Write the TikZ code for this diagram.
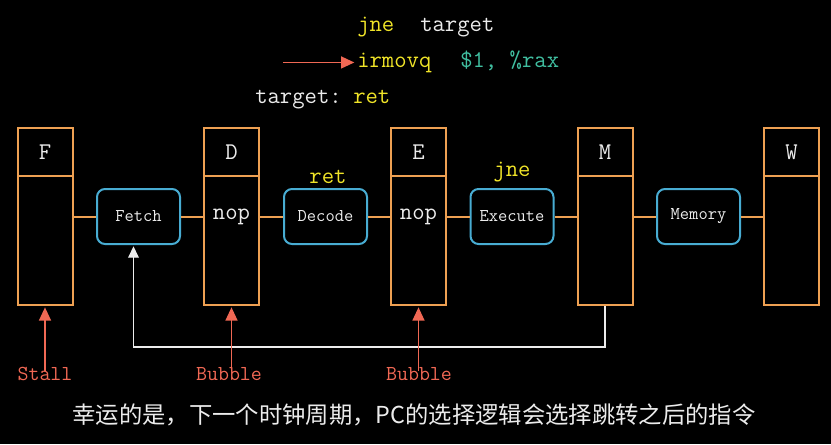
\documentclass[tikz,border=0pt]{standalone}
\usepackage{fontspec}
\newfontfamily\cjk{Noto Sans CJK SC}
\usetikzlibrary{arrows.meta,positioning}
\definecolor{regorange}{RGB}{238,160,82}
\definecolor{stageblue}{RGB}{72,172,210}
\definecolor{codeyellow}{RGB}{240,228,40}
\definecolor{codeteal}{RGB}{64,190,160}
\definecolor{sigred}{RGB}{240,104,84}
\definecolor{textwhite}{RGB}{236,236,236}

\begin{document}
\begin{tikzpicture}[x=0.75pt, y=-0.75pt,
    sig/.style={-{Triangle[length=10pt,width=9pt]}, sigred, line width=1.2pt},
    reghead/.style={draw=regorange, line width=1.5pt, minimum width=41.25pt, minimum height=36pt, inner sep=0pt, text=textwhite, font=\ttfamily\fontsize{18}{18}\selectfont},
    regbody/.style={draw=regorange, line width=1.5pt, minimum width=41.25pt, minimum height=96.75pt, inner sep=0pt},
    stage/.style={draw=stageblue, line width=1.5pt, rounded corners=6pt, minimum width=62.25pt, minimum height=41.25pt, inner sep=0pt, text=textwhite, font=\ttfamily\fontsize{13.5}{13.5}\selectfont},
    code/.style={inner sep=0pt, font=\ttfamily\fontsize{18}{18}\selectfont},
    ctl/.style={inner sep=0pt, text=sigred, font=\ttfamily\fontsize{16}{16}\selectfont}]
      \fill[black] (0,0) rectangle (831,444);

      % instructions
      \node[code, text=codeyellow, anchor=base west] (jne) at (357,31) {jne};
      \node[code, text=textwhite, anchor=base west] (jtarget) at (420,31) {target};
      \node[code, text=codeyellow, anchor=base west] (irmovq) at (357,67) {irmovq};
      \node[code, text=codeteal, anchor=base west] (args) at (460,67) {\$1, \%rax};
      \node[code, text=textwhite, anchor=base west] (label) at (255,103) {target:};
      \node[code, text=codeyellow, anchor=base west] (ret) at (353,103) {ret};
      \path (irmovq.west) ++(-74,0) coordinate (pc);
      \draw[sig] (pc) -- ([xshift=-2pt]irmovq.west);

      % pipeline registers
      \node[reghead] (Fh) at (45,152) {F};
      \node[regbody] (Fb) at (45,240.5) {};
      \node[reghead] (Dh) at (231.5,152) {D};
      \node[regbody] (Db) at (231.5,240.5) {};
      \node[reghead] (Eh) at (418.5,152) {E};
      \node[regbody] (Eb) at (418.5,240.5) {};
      \node[reghead] (Mh) at (605,152) {M};
      \node[regbody] (Mb) at (605,240.5) {};
      \node[reghead] (Wh) at (791.5,152) {W};
      \node[regbody] (Wb) at (791.5,240.5) {};

      % stages
      \node[stage] (fetch) at (138.5,216.5) {Fetch};
      \node[stage] (decode) at (325.5,216.5) {Decode};
      \node[stage] (execute) at (512,216.5) {Execute};
      \node[stage] (memory) at (698.5,216.5) {Memory};

      \node[code, text=textwhite] (nopD) at (Db |- fetch) {nop};
      \node[code, text=textwhite] (nopE) at (Eb |- fetch) {nop};
      \node[code, text=codeyellow] (inD) at (328,177) {ret};
      \node[code, text=codeyellow] (inE) at (512,172) {jne};

      \draw[regorange, line width=1.5pt] (fetch.west) -- (fetch.west -| Fb.east);
      \draw[regorange, line width=1.5pt] (fetch.east) -- (fetch.east -| Db.west);
      \draw[regorange, line width=1.5pt] (decode.west) -- (decode.west -| Db.east);
      \draw[regorange, line width=1.5pt] (decode.east) -- (decode.east -| Eb.west);
      \draw[regorange, line width=1.5pt] (execute.west) -- (execute.west -| Eb.east);
      \draw[regorange, line width=1.5pt] (execute.east) -- (execute.east -| Mb.west);
      \draw[regorange, line width=1.5pt] (memory.west) -- (memory.west -| Mb.east);
      \draw[regorange, line width=1.5pt] (memory.east) -- (memory.east -| Wb.west);

      % branch feedback
      \draw[-{Triangle[length=8.5pt,width=8pt]}, textwhite, line width=1pt] (Mb.south) -- ++(0,41) -| ([xshift=-3.75pt,yshift=-1pt]fetch.south);

      % control signals
      \node[ctl] (stall) at (45,374) {Stall};
      \node[ctl] (bubbleD) at (229,374) {Bubble};
      \node[ctl] (bubbleE) at (419,374) {Bubble};
      \draw[sig] ([yshift=-3pt]stall.north) -- ([yshift=-1pt]Fb.south);
      \draw[sig] ([yshift=-3pt]bubbleD.north -| Db.south) -- ([yshift=-1pt]Db.south);
      \draw[sig] ([yshift=-3pt]bubbleE.north -| Eb.south) -- ([yshift=-1pt]Eb.south);

      \node[inner sep=0pt, text=textwhite, font=\cjk\fontsize{17.5}{17.5}\selectfont] (caption) at (414,415) {幸运的是，下一个时钟周期，PC的选择逻辑会选择跳转之后的指令};
    \end{tikzpicture}
\end{document}
